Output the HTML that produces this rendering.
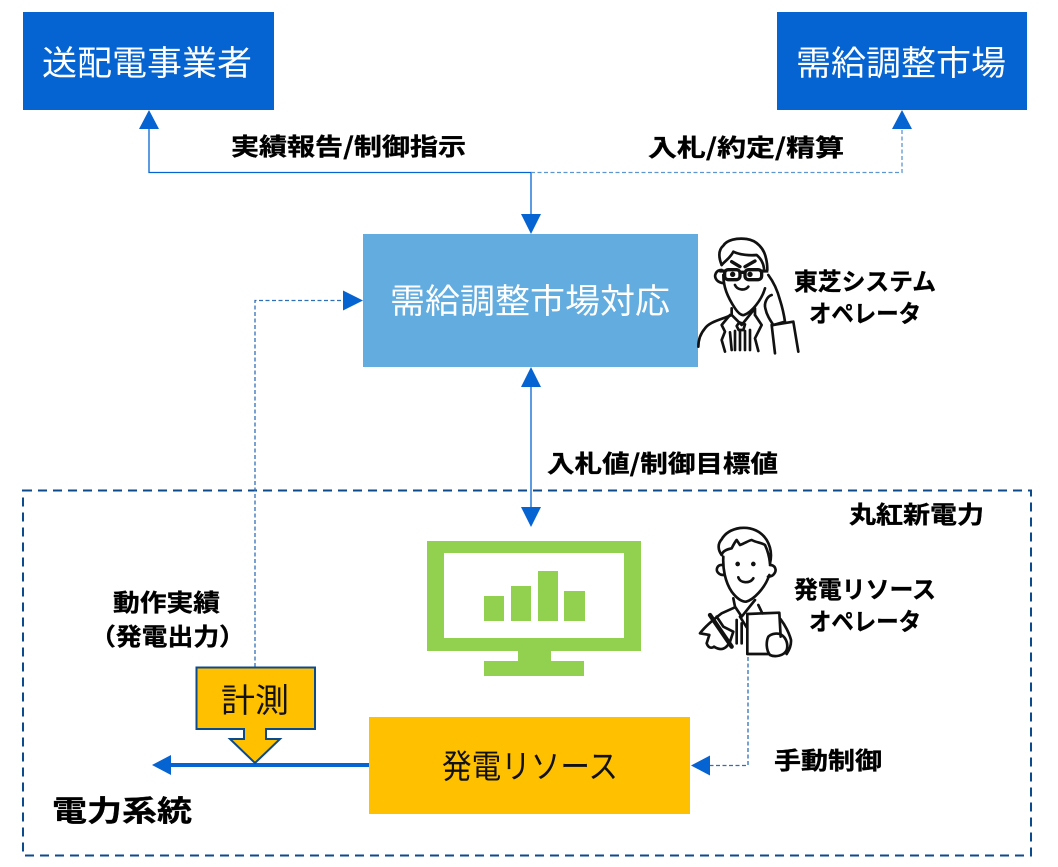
<!DOCTYPE html>
<html lang="ja"><head><meta charset="utf-8"><style>
html,body{margin:0;padding:0;background:#fff}
svg{display:block}
text{font-family:"Noto Sans CJK JP","Liberation Sans",sans-serif}
.b{font-weight:700;font-size:24px;fill:#000;stroke:#000;stroke-width:.35}
.w{font-size:34px;fill:#fff;font-weight:400}
.k{font-size:33px;fill:#111;font-weight:400}
.i{fill:none;stroke:#111;stroke-width:8;stroke-linecap:round;stroke-linejoin:round}
</style></head><body>
<svg width="1058" height="867" viewBox="0 0 1058 867" xmlns="http://www.w3.org/2000/svg">
<rect width="1058" height="867" fill="#fff"/>
<rect x="23" y="12" width="251" height="98" fill="#0563d2"/>
<rect x="777" y="12" width="250" height="98" fill="#0563d2"/>
<rect x="363" y="234" width="335" height="133" fill="#62acdf"/>
<text class="w" x="42" y="75" textLength="210" lengthAdjust="spacingAndGlyphs">送配電事業者</text>
<text class="w" x="796" y="75" textLength="210" lengthAdjust="spacingAndGlyphs">需給調整市場</text>
<text class="w" x="390" y="313" textLength="280" lengthAdjust="spacingAndGlyphs">需給調整市場対応</text>

<rect x="23" y="490.500" width="1008" height="365" fill="none" stroke="#0c4a8c" stroke-width="2" stroke-dasharray="9 6"/>

<g fill="none" stroke="#0563d2" stroke-width="1.300">
<path d="M149 128V172.500H531V215"/>
<path d="M531 385V510"/>
</g>
<g fill="none" stroke-width="1.300" stroke-dasharray="4 2.500">
<path d="M531 172.500H902V128" stroke="#5f95cf"/>
<path d="M255 667V300.500H345" stroke="#2f6fb5"/>
<path d="M748 657V765.500H708" stroke="#2f6fb5"/>
</g>
<g fill="#0563d2">
<path d="M149 110l10 19h-20z"/>
<path d="M902 110l10 19h-20z"/>
<path d="M531 234l-10-20h20z"/>
<path d="M363 300.500l-20-10v20z"/>
<path d="M531 367l10 20h-20z"/>
<path d="M531 527l-10-20h20z"/>
<path d="M691 765.500l19-10v20z"/>
<path d="M152 765l19-10v20z"/>
</g>
<path d="M168 765H369" stroke="#0563d2" stroke-width="4" fill="none"/>

<!-- monitor -->
<g fill="#92d050">
<path fill-rule="evenodd" d="M427 541H641V651H427ZM444 553V638H624V553Z"/>
<rect x="518" y="651" width="33" height="11"/>
<rect x="484" y="661" width="100" height="15"/>
<rect x="484" y="596" width="20" height="25"/>
<rect x="511" y="586" width="20" height="35"/>
<rect x="538" y="571" width="20" height="50"/>
<rect x="564" y="591" width="21" height="30"/>
</g>

<rect x="369" y="717" width="321" height="97" fill="#ffc000"/>
<text class="k" x="442" y="778" textLength="176" lengthAdjust="spacingAndGlyphs">発電リソース</text>

<path d="M196.500 667.500H315V729H266V739H280L255 763L230 739H244V729H196.500Z" fill="#ffc000" stroke="#0c4a8c" stroke-width="2"/>
<text class="k" x="221" y="712" textLength="68" lengthAdjust="spacingAndGlyphs">計測</text>

<!-- labels -->
<text class="b" x="231" y="155" textLength="235" lengthAdjust="spacingAndGlyphs">実績報告/制御指示</text>
<text class="b" x="648" y="156" textLength="196" lengthAdjust="spacingAndGlyphs">入札/約定/精算</text>
<text class="b" x="547" y="472" textLength="231" lengthAdjust="spacingAndGlyphs">入札値/制御目標値</text>
<text class="b" x="849" y="523" textLength="135" lengthAdjust="spacingAndGlyphs">丸紅新電力</text>
<text class="b" x="794" y="290" textLength="142" lengthAdjust="spacingAndGlyphs">東芝システム</text>
<text class="b" x="809" y="322" textLength="112" lengthAdjust="spacingAndGlyphs">オペレータ</text>
<text class="b" x="794" y="598" textLength="142" lengthAdjust="spacingAndGlyphs">発電リソース</text>
<text class="b" x="809" y="630" textLength="112" lengthAdjust="spacingAndGlyphs">オペレータ</text>
<text class="b" x="113" y="611" textLength="107" lengthAdjust="spacingAndGlyphs">動作実績</text>
<text class="b" x="90" y="645" textLength="155" lengthAdjust="spacingAndGlyphs">（発電出力）</text>
<text class="b" x="774" y="769" textLength="108" lengthAdjust="spacingAndGlyphs">手動制御</text>
<text class="b" x="52" y="821" style="font-size:29px" textLength="140" lengthAdjust="spacingAndGlyphs">電力系統</text>

<!-- operator 1 -->
<g transform="translate(690 225) scale(.3333)">
<g class="i">
<path d="M95 120C85 95 85 75 100 62C110 45 140 38 170 42C200 46 222 70 228 100C232 115 232 125 232 135"/>
<path d="M95 120C105 108 120 100 130 80C150 90 180 92 200 90C212 100 220 115 222 130"/>
<path d="M100 150C100 185 112 215 135 250C145 265 155 272 162 270C185 262 215 225 225 190"/>
<path d="M95 135C78 135 70 152 80 165C86 172 94 174 102 175"/>
<path d="M125 110L150 125M165 125L195 108" stroke-width="10"/>
<path d="M135 180C142 196 165 198 175 185"/>
<path d="M235 150C250 170 262 195 270 225C278 250 282 270 285 290L250 300C240 285 230 270 226 250C222 235 230 215 245 210"/>
<path d="M250 300L310 290L325 380M245 300L255 385"/>
<path d="M125 250V270L155 300L195 250V270"/>
<path d="M125 270C90 285 60 290 45 310C32 325 25 345 25 365"/>
<path d="M120 270L95 300L105 320L95 345L105 380"/>
<path d="M195 270L215 300L195 340L205 378"/>
<path d="M148 292L165 298L160 315H146L140 303Z"/>
<path d="M135 318V375M150 318V375M165 318V375M180 315V375M120 322L125 375"/>
</g>
<g fill="none" stroke="#111" stroke-width="10" stroke-linejoin="round">
<rect x="104" y="134" width="46" height="30" rx="11"/>
<rect x="165" y="134" width="50" height="30" rx="11"/>
<path d="M150 142H165M88 138H104M215 138H235"/>
</g>
<circle cx="128" cy="148" r="8" fill="#111"/><circle cx="180" cy="148" r="8" fill="#111"/>
</g>

<!-- operator 2 -->
<g transform="translate(690 520) scale(.3333)">
<g class="i">
<path d="M95 105C84 90 82 72 95 58C105 40 125 28 150 24C185 20 215 35 230 60C242 80 246 105 240 130"/>
<path d="M95 105C98 92 112 88 125 85C130 75 135 65 140 60L150 75C165 70 175 62 185 60C200 68 215 68 225 75C232 90 238 110 240 130"/>
<path d="M100 110C98 145 105 185 125 215C140 235 155 245 168 245C190 240 225 205 238 165"/>
<path d="M97 135C82 133 76 150 84 158C90 165 96 165 102 165"/>
<path d="M240 135C255 135 262 150 252 162C248 168 240 170 234 170"/>
<path d="M145 172C150 190 180 192 190 175"/>
<path d="M130 235L135 260L155 290L195 240"/>
<path d="M150 290L170 322M205 255L217 280"/>
<path d="M135 262L95 280C75 295 45 320 30 340L58 345L50 370C55 385 65 385 72 380C95 395 110 385 120 365L130 335L100 320L80 290"/>
<path d="M140 300V370M155 310V370"/>
<path d="M172 282L268 278L272 350M172 282V402H235"/>
<path d="M235 350C245 340 265 338 275 345C290 355 295 375 290 390C282 408 255 412 240 405C228 390 228 365 235 350Z"/>
<path d="M272 298C285 315 298 340 303 360C304 375 298 390 290 402"/>
<path d="M60 285L125 380" stroke-width="13"/>
</g>
<circle cx="143" cy="132" r="7" fill="#111"/><circle cx="190" cy="132" r="7" fill="#111"/>
</g>
</svg>
</body></html>
